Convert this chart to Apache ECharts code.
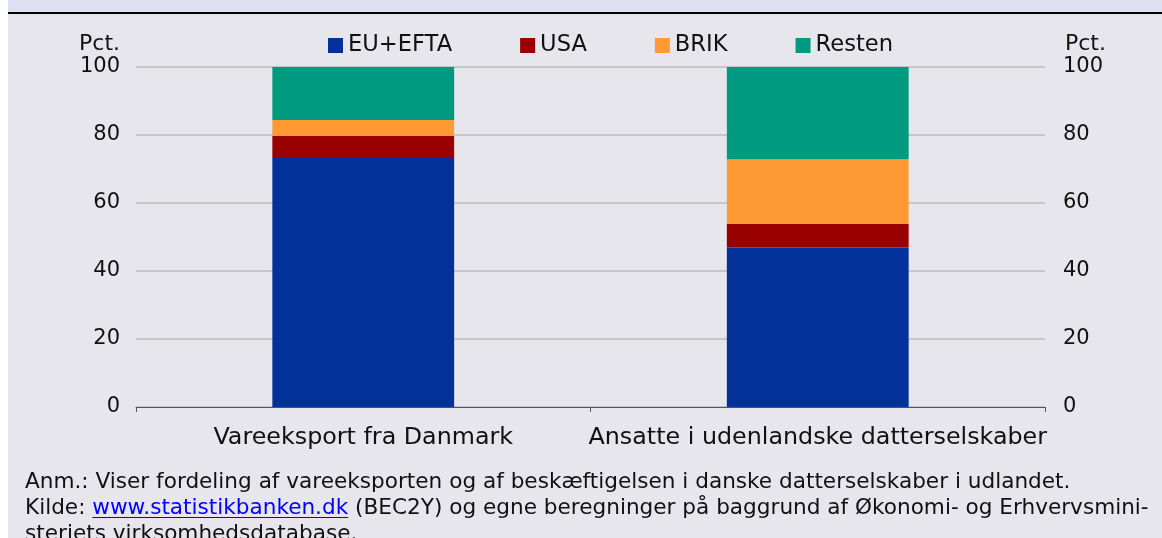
<!DOCTYPE html>
<html>
<head>
<meta charset="utf-8">
<script src="https://cdn.jsdelivr.net/npm/echarts@6/dist/echarts.min.js"></script>
<style>
  html, body { margin: 0; padding: 0; background: #fff; }
  #chart { width: 1162px; height: 538px; }
</style>
</head>
<body>
<div id="chart"></div>
<script>
// kategorier og andele (pct.)
var categories = ['Vareeksport fra Danmark', 'Ansatte i udenlandske datterselskaber']
var euEfta = [73.5, 46.9]
var usa = [6.2, 6.9]
var brik = [4.7, 19.1]
var resten = [15.6, 27.1]
var yTicks = [0, 20, 40, 60, 80, 100]

var fontFamily = 'DejaVu Sans'
var noteSize = 21.6
var note1 = 'Anm.: Viser fordeling af vareeksporten og af beskæftigelsen i danske datterselskaber i udlandet.'
var note2a = 'Kilde: '
var note2link = 'www.statistikbanken.dk'
var note2b = ' (BEC2Y) og egne beregninger på baggrund af Økonomi- og Erhvervsmini-'
var note3 = 'steriets virksomhedsdatabase.'

// maal tekstbredde til understregning af link
var noteFont = noteSize + 'px "' + fontFamily + '"'
var ctx = document.createElement('canvas').getContext('2d')
ctx.font = noteFont
var kildeW = ctx.measureText(note2a).width
var linkW = ctx.measureText(note2link).width

var myChart = echarts.init(document.getElementById('chart'))

function barSeries (name, data, color) {
  return {
    name: name,
    type: 'bar',
    stack: 'total',
    barWidth: '40%',
    data: data,
    itemStyle: { color: color }
  }
}

var noteX = 25
myChart.setOption({
  backgroundColor: '#E7E6ED',
  animation: false,
  textStyle: { fontFamily: fontFamily },
  grid: { left: 136, right: 117, top: 67, bottom: 131 },
  legend: {
    top: 34,
    left: 328,
    padding: 0,
    itemWidth: 15,
    itemHeight: 15,
    itemGap: 68,
    icon: 'rect',
    textStyle: { fontSize: 22.6, color: '#111' },
    data: ['EU+EFTA', 'USA', 'BRIK', 'Resten']
  },
  xAxis: {
    type: 'category',
    data: categories,
    axisLine: { lineStyle: { color: '#555', width: 1 } },
    axisTick: { show: true, length: 5, lineStyle: { color: '#555' } },
    axisLabel: { fontSize: 23.8, color: '#111', margin: 19, interval: 0 }
  },
  yAxis: [
    {
      type: 'value',
      min: yTicks[0],
      max: yTicks[yTicks.length - 1],
      interval: 20,
      name: 'Pct.',
      nameLocation: 'end',
      nameGap: 12,
      nameTextStyle: { fontSize: 22, color: '#111', align: 'right', padding: [0, 16, 0, 0] },
      axisLine: { show: false },
      axisTick: { show: false },
      axisLabel: { fontSize: 21, color: '#111', margin: 16, padding: [5, 0, 0, 0] },
      splitLine: { lineStyle: { color: '#C6C6C6', width: 2 } }
    },
    {
      type: 'value',
      position: 'right',
      min: yTicks[0],
      max: yTicks[yTicks.length - 1],
      interval: 20,
      name: 'Pct.',
      nameLocation: 'end',
      nameGap: 12,
      nameTextStyle: { fontSize: 22, color: '#111', align: 'left', padding: [0, 0, 0, 20] },
      axisLine: { show: false },
      axisTick: { show: false },
      axisLabel: { fontSize: 21, color: '#111', margin: 18, padding: [5, 0, 0, 0] },
      splitLine: { show: false }
    }
  ],
  series: [
    barSeries('EU+EFTA', euEfta, '#03319A'),
    barSeries('USA', usa, '#990000'),
    barSeries('BRIK', brik, '#FF9933'),
    barSeries('Resten', resten, '#009A80')
  ],
  graphic: [
    // hvid kant til venstre, top-bjaelke og sort streg
    { type: 'rect', left: 0, top: 0, shape: { width: 8, height: 538 }, style: { fill: '#fff' } },
    { type: 'rect', left: 8, top: 0, shape: { width: 1154, height: 12 }, style: { fill: '#DFDFF3' } },
    { type: 'rect', left: 8, top: 12, shape: { width: 1154, height: 2 }, style: { fill: '#000' } },
    // noter
    { type: 'text', left: noteX, top: 471, style: { text: note1, font: noteFont, fill: '#111' } },
    { type: 'text', left: noteX, top: 497, style: { text: note2a, font: noteFont, fill: '#111' } },
    { type: 'text', left: noteX + kildeW, top: 497, style: { text: note2link, font: noteFont, fill: '#0000FF' } },
    { type: 'rect', left: noteX + kildeW, top: 517, shape: { width: linkW, height: 1 }, style: { fill: '#0000FF' } },
    { type: 'text', left: noteX + kildeW + linkW, top: 497, style: { text: note2b, font: noteFont, fill: '#111' } },
    { type: 'text', left: noteX, top: 523, style: { text: note3, font: noteFont, fill: '#111' } }
  ]
})
</script>
</body>
</html>
